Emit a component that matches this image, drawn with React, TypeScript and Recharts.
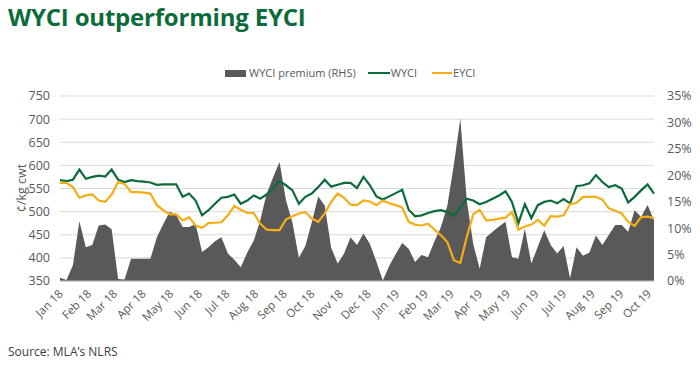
import React from 'react';
import { ComposedChart, Area, Line, XAxis, YAxis, CartesianGrid } from 'recharts';

// Weekly series, first week 5 Jan 2018
const startDateUTC = Date.UTC(2018, 0, 5);

const wyci = [
  568, 566, 569, 591, 571, 575, 578, 576, 591, 569,
  564, 568, 566, 565, 563, 558, 559, 559, 559, 532,
  539, 524, 492, 503, 517, 530, 532, 537, 517, 524,
  535, 528, 537, 550, 566, 557, 546, 517, 532, 539,
  553, 569, 554, 558, 562, 562, 551, 575, 557, 533,
  526, 533, 540, 547, 504, 490, 492, 497, 501, 503,
  499, 490, 510, 528, 524, 516, 521, 528, 535, 544,
  521, 475, 516, 486, 514, 521, 524, 518, 527, 518,
  555, 557, 561, 579, 564, 553, 557, 550, 520, 532,
  546, 559, 539,
];

const eyci = [
  562, 562, 553, 530, 535, 537, 524, 521, 537, 564,
  560, 542, 542, 541, 539, 514, 503, 494, 494, 481,
  488, 470, 465, 475, 476, 477, 492, 512, 504, 497,
  497, 474, 461, 460, 460, 483, 490, 496, 499, 485,
  478, 496, 521, 539, 530, 515, 514, 524, 522, 514,
  524, 518, 514, 509, 478, 472, 470, 474, 461, 449,
  434, 395, 389, 445, 494, 504, 481, 482, 485, 487,
  499, 461, 468, 472, 482, 470, 490, 489, 492, 516,
  519, 532, 532, 532, 526, 507, 502, 496, 478, 469,
  488, 489, 486,
];

const premium = [
  0.6, 0.2, 3.0, 11.3, 6.4, 6.8, 10.5, 10.7, 9.8, 0.4,
  0.3, 4.2, 4.2, 4.2, 4.2, 8.3, 10.8, 13.1, 12.5, 10.2,
  10.2, 10.8, 5.5, 6.4, 7.5, 8.3, 5.2, 4.0, 2.6, 5.4,
  7.6, 11.4, 16.5, 19.6, 22.5, 15.3, 11.0, 4.4, 6.6, 11.1,
  16.0, 14.3, 6.3, 3.3, 5.2, 8.3, 6.8, 9.0, 7.0, 3.7,
  0.1, 2.9, 5.1, 7.2, 6.1, 3.6, 4.9, 4.5, 7.5, 10.2,
  14.3, 22.0, 30.7, 15.3, 7.0, 2.3, 8.3, 9.3, 10.3, 11.2,
  4.5, 4.2, 9.9, 3.3, 6.5, 9.6, 6.8, 5.2, 6.6, 0.5,
  6.4, 4.8, 5.4, 8.6, 6.8, 8.7, 10.6, 10.6, 9.3, 13.4,
  12.1, 14.4, 11.5,
];

const monthNames = ['Jan', 'Feb', 'Mar', 'Apr', 'May', 'Jun', 'Jul', 'Aug', 'Sep', 'Oct', 'Nov', 'Dec'];
const tickMonthCount = 22; // Jan 18 .. Oct 19
const leftTicks = [350, 400, 450, 500, 550, 600, 650, 700, 750];
const rightTicks = [0, 5, 10, 15, 20, 25, 30, 35];

const DAY = 86400000;
const data = wyci.map((w, i) => ({
  day: i * 7,
  wyci: w,
  eyci: eyci[i],
  premium: premium[i],
}));

const monthTicks: number[] = [];
const monthLabels: Record<number, string> = {};
for (let k = 0; k < tickMonthCount; k++) {
  const d = Math.round((Date.UTC(2018, k, 5) - startDateUTC) / DAY);
  monthTicks.push(d);
  const yr = 18 + Math.floor(k / 12);
  monthLabels[d] = `${monthNames[k % 12]} ${yr}`;
}
const lastDay = (wyci.length - 1) * 7;

const FONT = '"Open Sans", "Liberation Sans", sans-serif';
const GREEN = '#0b6b3a';
const ORANGE = '#f5ad14';
const GREY = '#595959';
const TXT = '#595959';

const XTick = (props: any) => {
  const { x, y, payload } = props;
  return (
    <text
      x={x}
      y={y}
      dy={5}
      textAnchor="end"
      fill={TXT}
      fontSize={11.5}
      fontFamily={FONT}
      transform={`rotate(-45, ${x}, ${y})`}
    >
      {monthLabels[payload.value]}
    </text>
  );
};

export default function App() {
  return (
    <div
      style={{
        position: 'absolute',
        left: 0,
        top: 0,
        width: 700,
        height: 368,
        background: '#ffffff',
        overflow: 'hidden',
        fontFamily: FONT,
      }}
    >
      <div
        style={{
          position: 'absolute',
          left: 8,
          top: 0,
          fontSize: 24,
          fontWeight: 700,
          color: GREEN,
          lineHeight: '34px',
          letterSpacing: -0.2,
          whiteSpace: 'nowrap',
        }}
      >
        WYCI outperforming EYCI
      </div>

      <div style={{ position: 'absolute', left: 0, top: 0 }}>
        <ComposedChart
          width={700}
          height={368}
          data={data}
          margin={{ top: 96, right: 0, bottom: 47, left: 0 }}
        >
          <CartesianGrid yAxisId="left" horizontal vertical={false} stroke="#d9d9d9" strokeWidth={1} />
          <XAxis
            dataKey="day"
            type="number"
            domain={[0, lastDay]}
            ticks={monthTicks}
            interval={0}
            tick={<XTick />}
            tickLine={false}
            tickSize={0}
            tickMargin={10}
            axisLine={{ stroke: '#bfbfbf' }}
            height={40}
          />
          <YAxis
            yAxisId="left"
            orientation="left"
            domain={[350, 750]}
            ticks={leftTicks}
            interval={0}
            width={60}
            tickLine={false}
            axisLine={false}
            tickSize={0}
            tickMargin={10}
            tick={{ fill: TXT, fontSize: 12.5, fontFamily: FONT }}
          />
          <YAxis
            yAxisId="right"
            orientation="right"
            domain={[0, 35]}
            ticks={rightTicks}
            interval={0}
            width={46}
            tickLine={false}
            axisLine={false}
            tickSize={0}
            tickMargin={13}
            tickFormatter={(v: number) => `${v}%`}
            tick={{ fill: TXT, fontSize: 12.5, fontFamily: FONT, textAnchor: 'start' }}
          />
          <Area
            yAxisId="right"
            type="linear"
            dataKey="premium"
            fill={GREY}
            fillOpacity={1}
            stroke="none"
            baseValue={0}
            isAnimationActive={false}
          />
          <Line
            yAxisId="left"
            type="linear"
            dataKey="wyci"
            stroke={GREEN}
            strokeWidth={2.2}
            dot={false}
            isAnimationActive={false}
          />
          <Line
            yAxisId="left"
            type="linear"
            dataKey="eyci"
            stroke={ORANGE}
            strokeWidth={2.2}
            dot={false}
            isAnimationActive={false}
          />
        </ComposedChart>
      </div>

      <div
        style={{
          position: 'absolute',
          left: 21,
          top: 188,
          transform: 'translate(-50%, -50%) rotate(-90deg)',
          fontSize: 12.5,
          color: TXT,
          whiteSpace: 'nowrap',
        }}
      >
        ¢/kg cwt
      </div>

      <div
        style={{
          position: 'absolute',
          left: 225,
          top: 65,
          display: 'flex',
          alignItems: 'center',
          fontSize: 11,
          color: TXT,
          whiteSpace: 'nowrap',
          lineHeight: '16px',
        }}
      >
        <span style={{ display: 'inline-block', width: 21, height: 7, background: GREY, marginRight: 3 }} />
        <span>WYCI premium (RHS)</span>
        <span style={{ display: 'inline-block', width: 22, height: 2.5, background: GREEN, marginLeft: 12, marginRight: 1 }} />
        <span>WYCI</span>
        <span style={{ display: 'inline-block', width: 20, height: 2.5, background: ORANGE, marginLeft: 15, marginRight: 1 }} />
        <span>EYCI</span>
      </div>

      <div
        style={{
          position: 'absolute',
          left: 8,
          top: 343,
          fontSize: 12,
          color: '#404040',
          whiteSpace: 'nowrap',
          lineHeight: '18px',
        }}
      >
        Source: MLA’s NLRS
      </div>
    </div>
  );
}
